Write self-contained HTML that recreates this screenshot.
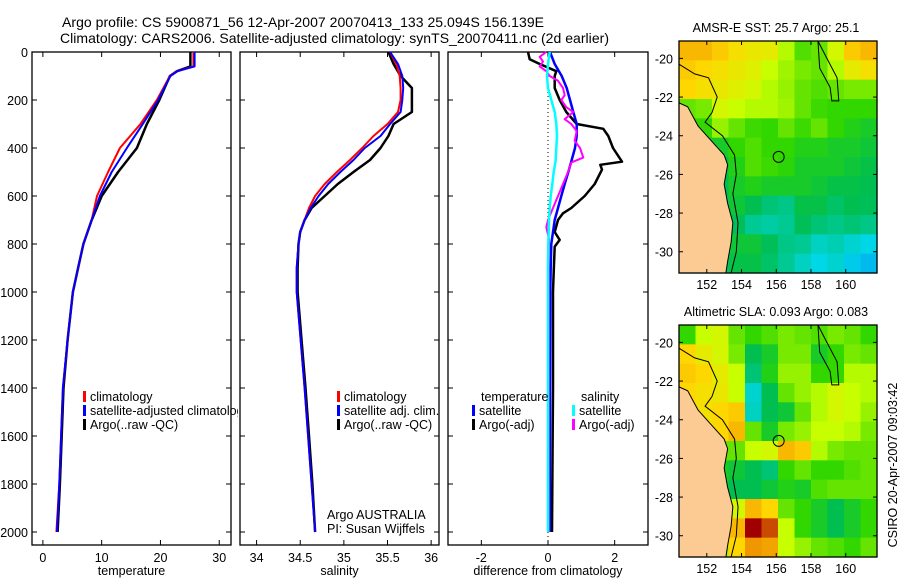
<!DOCTYPE html>
<html><head><meta charset="utf-8"><style>
html,body{margin:0;padding:0;background:#fff;}
svg{display:block;font-family:"Liberation Sans",sans-serif;}
</style></head><body>
<svg id="fig" width="900" height="580" viewBox="0 0 900 580">
<defs><clipPath id="clipP1"><rect x="32" y="52" width="206" height="493"/></clipPath></defs>
<rect x="0" y="0" width="900" height="580" fill="#fff"/>
<text x="62" y="27" font-size="14" textLength="482">Argo profile: CS 5900871_56 12-Apr-2007 20070413_133 25.094S 156.139E</text>
<text x="60" y="43" font-size="14" textLength="549">Climatology: CARS2006. Satellite-adjusted climatology: synTS_20070411.nc (2d earlier)</text>
<g id="plots"></g>
</svg>
<script>
// ---------- profile data ----------
const depthT = [0,60,80,100,200,300,400,500,600,700,800,900,1000,1200,1400,1600,1800,2000];
const tempClim = [25.6,25.6,22.8,21.6,19.4,16.6,13.1,11.1,9.2,8.3,6.9,6.0,5.1,4.2,3.4,3.1,2.8,2.3];
const tempSat = [25.8,25.8,22.9,21.7,19.6,17.0,14.3,11.7,9.7,8.3,6.9,6.0,5.1,4.2,3.4,3.1,2.8,2.4];
const tempArgo = [25.1,25.1,22.8,21.6,19.8,17.7,16.0,12.8,10.0,8.3,6.9,6.0,5.1,4.2,3.5,3.2,2.9,2.5];

const depthS = [0,50,100,150,200,250,300,350,400,450,500,550,600,650,700,750,800,900,1000,1400,1600,1800,2000];
const salClim = [35.53,35.60,35.64,35.65,35.65,35.62,35.50,35.34,35.21,35.07,34.92,34.78,34.67,34.60,34.55,34.50,34.48,34.46,34.46,34.55,34.59,34.63,34.67];
const salSat = [35.53,35.62,35.67,35.68,35.67,35.65,35.53,35.42,35.24,35.11,34.96,34.82,34.71,34.62,34.55,34.50,34.48,34.46,34.46,34.55,34.59,34.63,34.67];
const salArgo = [35.51,35.57,35.65,35.78,35.78,35.78,35.57,35.51,35.42,35.30,35.11,34.93,34.78,34.63,34.55,34.50,34.48,34.47,34.47,34.56,34.60,34.64,34.67];

const depthD = [0,50,100,150,200,250,300,350,400,450,500,550,600,650,700,750,800,900,1000,1400,2000];
const diffTSat = [0.06,0.2,0.41,0.56,0.66,0.76,0.86,0.86,0.81,0.71,0.61,0.5,0.4,0.3,0.2,0.15,0.1,0.08,0.07,0.06,0.05];
const diffSSat = [0.05,0.0,-0.03,0.0,0.1,0.2,0.25,0.27,0.25,0.23,0.17,0.13,0.08,0.05,0.03,0.02,0.01,0.0,0.0,0.0,0.0];
const depthDA = [0,30,50,80,100,150,200,250,300,320,350,400,457,470,490,550,600,650,672,700,750,783,811,917,1000,1400,2000];
const diffTArgo = [-0.6,-0.55,-0.25,0.25,0.2,0.2,0.35,0.55,0.86,1.66,1.81,1.95,2.22,1.57,1.62,1.4,1.1,0.7,0.45,0.3,0.2,0.35,0.2,0.17,0.15,0.15,0.12];
const depthDM = [0,20,40,60,80,100,120,150,180,200,230,250,280,300,330,370,400,440,460,500,550,600,650,700,730,780,900,1400,2000];
const diffSArgo = [-0.05,-0.25,-0.15,-0.25,-0.05,0.05,0.3,0.45,0.5,0.4,0.55,0.76,0.5,0.7,0.86,0.8,0.96,1.06,0.7,0.6,0.45,0.3,0.15,0.0,-0.05,0.03,0.02,0.02,0.02];

const depthTicks = [0,200,400,600,800,1000,1200,1400,1600,1800,2000];
const tempTicks = [0,10,20,30];
const salTicks = [34,34.5,35,35.5,36];
const diffTicks = [-2,0,2];

// ---------- map data (rows top->bottom, cols west->east, 0=blue..1=dark red) ----------
const sstGrid = [
[0.85,0.85,0.82,0.78,0.76,0.75,0.68,0.58,0.60,0.72,0.82,0.85],
[0.82,0.80,0.78,0.76,0.74,0.70,0.66,0.62,0.60,0.68,0.75,0.78],
[0.80,0.78,0.76,0.74,0.72,0.68,0.65,0.60,0.58,0.60,0.62,0.62],
[0.60,0.62,0.72,0.70,0.68,0.68,0.66,0.60,0.56,0.55,0.55,0.55],
[0.50,0.55,0.65,0.60,0.56,0.55,0.60,0.56,0.60,0.55,0.52,0.50],
[0.45,0.50,0.50,0.55,0.58,0.55,0.55,0.52,0.52,0.50,0.50,0.48],
[0.45,0.45,0.45,0.52,0.58,0.56,0.54,0.50,0.50,0.50,0.48,0.46],
[0.45,0.45,0.45,0.50,0.52,0.50,0.50,0.50,0.48,0.46,0.46,0.45],
[0.45,0.40,0.42,0.48,0.45,0.40,0.38,0.46,0.46,0.42,0.45,0.44],
[0.40,0.40,0.42,0.44,0.36,0.34,0.36,0.44,0.40,0.38,0.40,0.38],
[0.40,0.40,0.42,0.48,0.48,0.44,0.38,0.36,0.30,0.32,0.28,0.25],
[0.40,0.40,0.42,0.46,0.46,0.42,0.36,0.30,0.25,0.28,0.22,0.18]];
const slaGrid = [
[0.55,0.70,0.72,0.60,0.55,0.58,0.62,0.60,0.58,0.62,0.60,0.55],
[0.80,0.75,0.72,0.62,0.45,0.50,0.62,0.62,0.50,0.55,0.62,0.60],
[0.82,0.80,0.75,0.70,0.40,0.52,0.65,0.65,0.55,0.55,0.68,0.68],
[0.80,0.78,0.76,0.70,0.28,0.45,0.60,0.65,0.68,0.72,0.70,0.68],
[0.78,0.78,0.80,0.82,0.30,0.45,0.48,0.60,0.68,0.72,0.70,0.65],
[0.75,0.75,0.80,0.85,0.60,0.50,0.62,0.65,0.70,0.70,0.68,0.62],
[0.70,0.70,0.60,0.60,0.70,0.72,0.85,0.82,0.68,0.62,0.60,0.60],
[0.60,0.55,0.50,0.48,0.45,0.40,0.55,0.60,0.55,0.55,0.58,0.60],
[0.55,0.50,0.50,0.45,0.45,0.48,0.52,0.50,0.58,0.60,0.60,0.60],
[0.55,0.55,0.58,0.72,0.85,0.80,0.60,0.55,0.50,0.45,0.50,0.55],
[0.55,0.55,0.62,0.85,1.00,0.95,0.70,0.55,0.50,0.45,0.50,0.55],
[0.55,0.55,0.65,0.80,0.90,0.88,0.70,0.65,0.60,0.58,0.55,0.60]];
const coastLon = [150.4,150.9,151.5,152.3,153.0,153.2,153.0,153.2,153.5,153.4,153.2,153.1,150.4];
const coastLat = [-22.3,-22.5,-23.5,-24.3,-25.0,-25.5,-26.5,-27.5,-28.5,-29.5,-30.5,-31.1,-31.1];
const shelfLon = [150.4,151.3,152.1,152.6,152.3,151.9,152.9,153.6,153.7,153.5,153.8,153.7,153.4];
const shelfLat = [-20.3,-20.8,-21.0,-22.0,-22.8,-23.3,-24.0,-25.0,-26.0,-27.0,-28.5,-30.0,-31.1];
const reefLon = [158.4,158.5,159.1,159.2,159.6,159.5,158.8,158.4];
const reefLat = [-19.1,-20.5,-21.5,-22.2,-22.2,-21.0,-19.8,-19.1];
const latTicks = [-20,-22,-24,-26,-28,-30];
const lonTicks = [152,154,156,158,160];
const argoLon = 156.139, argoLat = -25.094;

// ---------- helpers ----------
const NS = "http://www.w3.org/2000/svg";
const root = document.getElementById('plots');
function mk(tag, attrs, parent){ const e=document.createElementNS(NS,tag); for(const k in attrs) e.setAttribute(k,attrs[k]); (parent||root).appendChild(e); return e; }
const yTop=52, yBot=545;
const depthY = d => yTop + d*0.24;

function panel(x0,x1,dom,ticks,label,name,fmt){
  const sx = v => x0 + (v-dom[0])/(dom[1]-dom[0])*(x1-x0);
  const g = mk('g',{});
  
  
  const fr = mk('rect',{x:x0,y:yTop,width:x1-x0,height:yBot-yTop,fill:'none',stroke:'#000','stroke-width':1.3},g);
  
  
  ticks.forEach(t=>{
    const x=sx(t);
    mk('line',{x1:x,y1:yBot,x2:x,y2:yBot-5,stroke:'#000'},g);
    mk('line',{x1:x,y1:yTop,x2:x,y2:yTop+5,stroke:'#000'},g);
    const tl = mk('text',{x:x,y:yBot+17,'font-size':12.5,'text-anchor':'middle'},g);
    tl.textContent = fmt?fmt(t):t;
    
    
  });
  depthTicks.forEach(d=>{
    const y=depthY(d);
    mk('line',{x1:x0,y1:y,x2:x0+5,y2:y,stroke:'#000'},g);
    mk('line',{x1:x1,y1:y,x2:x1-5,y2:y,stroke:'#000'},g);
  });
  const xl = mk('text',{x:(x0+x1)/2,y:575,'font-size':12.5,'text-anchor':'middle'},g);
  xl.textContent = label;
  
  
  return {sx,g};
}
function line(p, vals, depths, color, w, name){
  const pts = vals.map((v,i)=>p.sx(v).toFixed(1)+','+depthY(depths[i]).toFixed(1)).join(' ');
  const e = mk('polyline',{points:pts,fill:'none',stroke:color,'stroke-width':w,'stroke-linejoin':'round'},p.g);
  
  
}
function legend(g, x, y, color, txt, name, clip){
  if(color){ const m=mk('rect',{x:x,y:y-10,width:3,height:11,fill:color},g);
      }
  const t = mk('text',{x:x+7,y:y,'font-size':12.5},g);
  if(clip) t.setAttribute('clip-path',clip);
  t.textContent = txt;
  
  
}

// Panel 1 temperature
const p1 = panel(32,231,[-1.85,32],tempTicks,'temperature','temperature');
depthTicks.forEach(d=>{
  const t = mk('text',{x:28,y:depthY(d)+5,'font-size':12.5,'text-anchor':'end'});
  t.textContent = d;
  
  
});
line(p1,tempArgo,depthT,'#000',2.5,'temp-argo-line');
line(p1,tempClim,depthT,'#f00',2,'temp-climatology-line');
line(p1,tempSat,depthT,'#00f',2,'temp-satellite-line');
legend(p1.g,83,401,'#f00','climatology','temp-legend-climatology');
legend(p1.g,83,415,'#00f','satellite-adjusted climatology','temp-legend-satellite','url(#clipP1)');
legend(p1.g,83,429,'#000','Argo(..raw -QC)','temp-legend-argo');

// Panel 2 salinity
const p2 = panel(240,439,[33.81,36.09],salTicks,'salinity','salinity');
line(p2,salArgo,depthS,'#000',2.5,'sal-argo-line');
line(p2,salClim,depthS,'#f00',2,'sal-climatology-line');
line(p2,salSat,depthS,'#00f',2,'sal-satellite-line');
legend(p2.g,337,401,'#f00','climatology','sal-legend-climatology');
legend(p2.g,337,415,'#00f','satellite adj. clim.','sal-legend-satellite');
legend(p2.g,337,429,'#000','Argo(..raw -QC)','sal-legend-argo');
legend(p2.g,320,519,null,'Argo AUSTRALIA','credit-argo-australia');
legend(p2.g,320,533,null,'PI: Susan Wijffels','credit-pi');

// Panel 3 differences
const p3 = panel(448,648,[-3,3],diffTicks,'difference from climatology','difference');
const z = p3.sx(0);
const zl = mk('line',{x1:z,y1:yTop,x2:z,y2:yBot,stroke:'#000','stroke-dasharray':'1,3'},p3.g);


line(p3,diffTArgo,depthDA,'#000',2.5,'diff-temp-argo-line');
line(p3,diffTSat,depthD,'#00f',2.5,'diff-temp-satellite-line');
line(p3,diffSArgo,depthDM,'#f0f',2,'diff-sal-argo-line');
line(p3,diffSSat,depthD,'#0ff',2.5,'diff-sal-satellite-line');
legend(p3.g,474,401,null,'temperature','diff-legend-temperature-header');
legend(p3.g,472,415,'#00f','satellite','diff-legend-temp-satellite');
legend(p3.g,472,429,'#000','Argo(-adj)','diff-legend-temp-argo');
legend(p3.g,574,401,null,'salinity','diff-legend-salinity-header');
legend(p3.g,572,415,'#0ff','satellite','diff-legend-sal-satellite');
legend(p3.g,572,429,'#f0f','Argo(-adj)','diff-legend-sal-argo');

// ---------- maps ----------
function cmap(v){
  const stops=[[0,[0,110,255]],[0.25,[0,215,230]],[0.45,[0,190,80]],[0.55,[50,215,0]],[0.7,[200,255,0]],[0.8,[255,215,0]],[0.9,[240,150,0]],[1,[160,0,0]]];
  for(let i=1;i<stops.length;i++){ if(v<=stops[i][0]){ const a=stops[i-1],b=stops[i],t=(v-a[0])/(b[0]-a[0]);
    return 'rgb('+a[1].map((c,j)=>Math.round(c+(b[1][j]-c)*t)).join(',')+')'; } }
  return 'rgb(160,0,0)';
}
function map(yT,yB,grid,title,name){
  const x0=679,x1=877, lon0=150.4, lon1=161.8, lat0=-19.1, lat1=-31.1;
  const sx = lo => x0+(lo-lon0)/(lon1-lon0)*(x1-x0);
  const sy = la => yT+(la-lat0)/(lat1-lat0)*(yB-yT);
  const g = mk('g',{});
  
  
  const rows=grid.length, cols=grid[0].length;
  const cw=(x1-x0)/cols, ch=(yB-yT)/rows;
  grid.forEach((row,r)=>row.forEach((v,c)=>{
    const cell = mk('rect',{x:(x0+c*cw).toFixed(2),y:(yT+r*ch).toFixed(2),width:(cw+0.6).toFixed(2),height:(ch+0.6).toFixed(2),fill:cmap(v)},g);
    
    
  }));
  const land = mk('polygon',{points:coastLon.map((lo,i)=>sx(lo)+','+sy(coastLat[i])).join(' '),fill:'#fccb94',stroke:'#000','stroke-width':1},g);
  
  
  const sh = mk('polyline',{points:shelfLon.map((lo,i)=>sx(lo)+','+sy(shelfLat[i])).join(' '),fill:'none',stroke:'#000','stroke-width':1},g);
  
  
  const rf = mk('polyline',{points:reefLon.map((lo,i)=>sx(lo)+','+sy(reefLat[i])).join(' '),fill:'none',stroke:'#000','stroke-width':1},g);
  
  
  const ci = mk('circle',{cx:sx(argoLon),cy:sy(argoLat),r:5.5,fill:'none',stroke:'#000','stroke-width':1},g);
  
  
  const fr = mk('rect',{x:x0,y:yT,width:x1-x0,height:yB-yT,fill:'none',stroke:'#000','stroke-width':1.3},g);
  
  
  latTicks.forEach(la=>{
    const y=sy(la);
    mk('line',{x1:x0,y1:y,x2:x0+4,y2:y,stroke:'#000'},g);
    mk('line',{x1:x1,y1:y,x2:x1-4,y2:y,stroke:'#000'},g);
    const t=mk('text',{x:673,y:y+5,'font-size':12.5,'text-anchor':'end'},g);
    t.textContent = la;
    
    
  });
  lonTicks.forEach(lo=>{
    const x=sx(lo);
    mk('line',{x1:x,y1:yB,x2:x,y2:yB-4,stroke:'#000'},g);
    mk('line',{x1:x,y1:yT,x2:x,y2:yT+4,stroke:'#000'},g);
    const t=mk('text',{x:x,y:yB+16,'font-size':12.5,'text-anchor':'middle'},g);
    t.textContent = lo;
    
    
  });
  const tt=mk('text',{x:(x0+x1)/2-2,y:yT-9,'font-size':12.5,'text-anchor':'middle'},g);
  tt.textContent = title;
  
  
}
map(41,273,sstGrid,'AMSR-E SST: 25.7 Argo: 25.1','sst-map');
map(325,557,slaGrid,'Altimetric SLA: 0.093 Argo: 0.083','sla-map');
const stamp = mk('text',{x:0,y:0,'font-size':12.5,'text-anchor':'middle',transform:'translate(897,465) rotate(-90)'});
stamp.textContent = 'CSIRO 20-Apr-2007 09:03:42';


</script>
</body></html>
